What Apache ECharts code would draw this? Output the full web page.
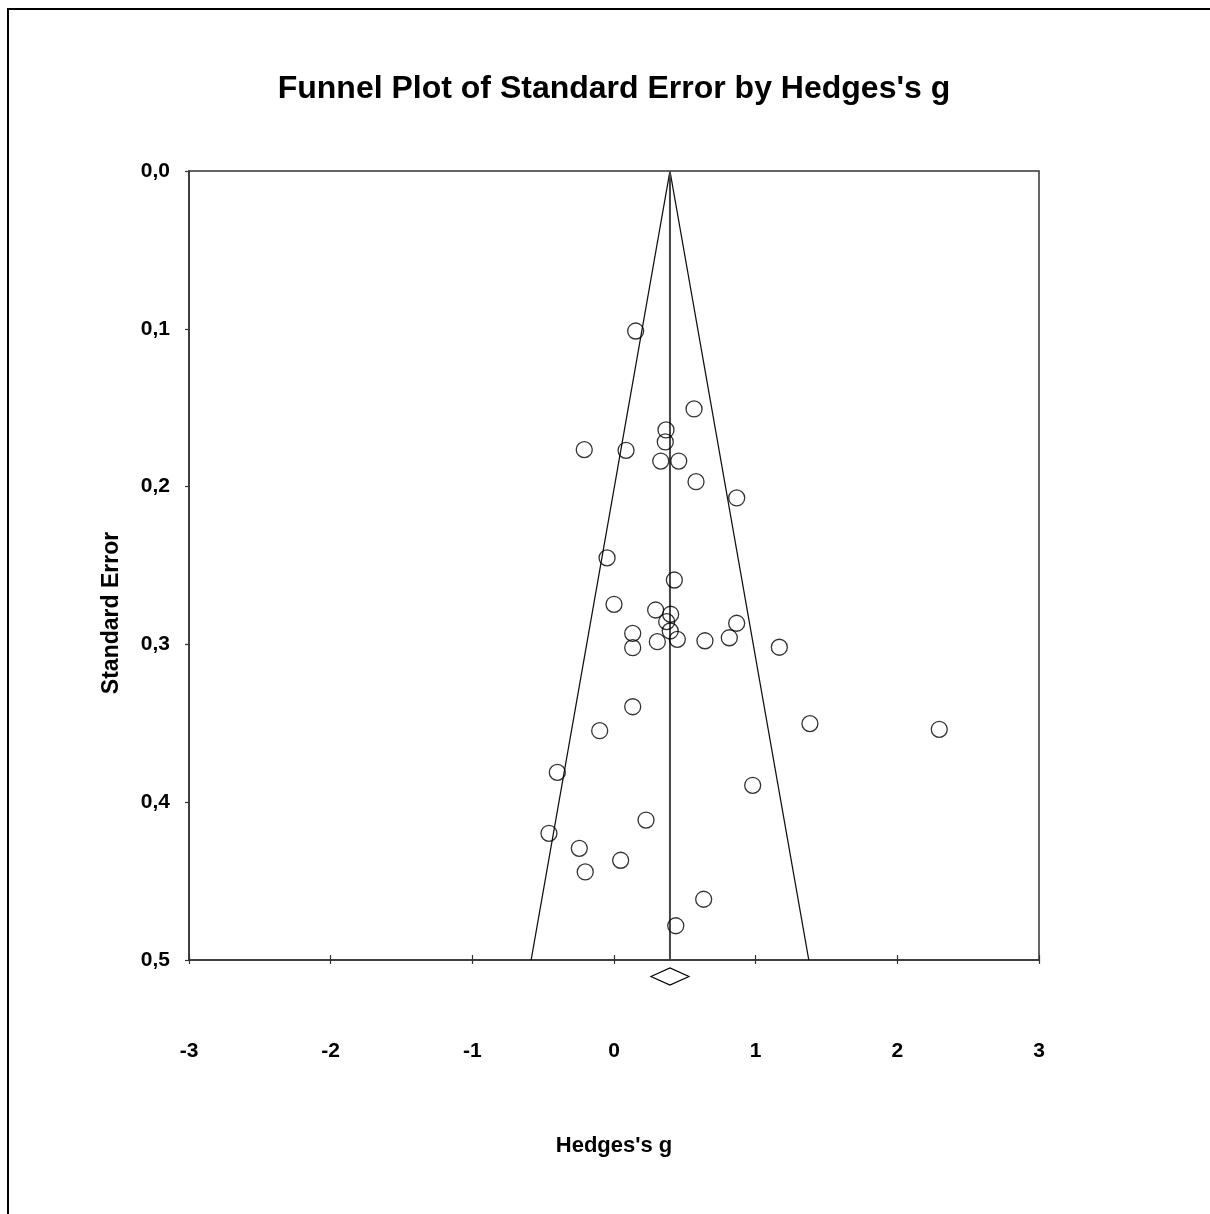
<!DOCTYPE html>
<html>
<head>
<meta charset="utf-8">
<title>Funnel Plot of Standard Error by Hedges's g</title>
<script src="https://cdn.jsdelivr.net/npm/echarts@6/dist/echarts.min.js"></script>
<style>
  html, body { margin: 0; padding: 0; background: #fff; }
  #chart { width: 1210px; height: 1214px; }
</style>
</head>
<body>
<div id="chart"></div>
<script>
// Study effect sizes (Hedges's g) and their standard errors
const hedgesG = [
  0.153, 0.565, 0.367, 0.362, -0.210, 0.085, 0.330, 0.457, 0.579, 0.866,
  -0.049, 0.426, 0.000, 0.294, 0.400, 0.372, 0.397, 0.866, 0.132, 0.447,
  0.306, 0.642, 0.814, 0.132, 1.167, 0.132, 1.383, -0.101, 2.296, -0.400,
  0.979, 0.226, -0.459, -0.245, 0.047, -0.203, 0.633, 0.436
];
const stdError = [
  0.1014, 0.1508, 0.1641, 0.1717, 0.1766, 0.1770, 0.1838, 0.1838, 0.1969, 0.2072,
  0.2452, 0.2592, 0.2746, 0.2782, 0.2809, 0.2856, 0.2915, 0.2866, 0.2930, 0.2968,
  0.2983, 0.2977, 0.2958, 0.3021, 0.3018, 0.3395, 0.3502, 0.3547, 0.3538, 0.3811,
  0.3893, 0.4113, 0.4197, 0.4292, 0.4368, 0.4442, 0.4615, 0.4783
];

// Pooled estimate and its confidence interval (drawn as the diamond)
const pooledG = 0.395;
const pooledLow = 0.261;
const pooledHigh = 0.529;

// Axis ticks
const xTicks = [-3, -2, -1, 0, 1, 2, 3];
const xTickLabels = ['-3', '-2', '-1', '0', '1', '2', '3'];
const yTicks = [0, 0.1, 0.2, 0.3, 0.4, 0.5];
const yTickLabels = ['0,0', '0,1', '0,2', '0,3', '0,4', '0,5'];

const FONT = "'Liberation Sans', Arial, Helvetica, sans-serif";
const seMax = yTicks[yTicks.length - 1];

const points = hedgesG.map((g, i) => [g, stdError[i]]);
// Pseudo 95% confidence limits around the pooled estimate
const funnel = [
  [pooledG - 1.96 * seMax, seMax],
  [pooledG, 0],
  [pooledG + 1.96 * seMax, seMax]
];

const labelStyle = { fontSize: 21, fontWeight: 'bold', color: '#000', fontFamily: FONT };
const axisColor = '#333';

const chart = echarts.init(document.getElementById('chart'), null, { renderer: 'canvas' });

chart.setOption({
  animation: false,
  backgroundColor: '#fff',
  grid: {
    left: 189, top: 171, right: 171, bottom: 254,
    show: true, borderColor: axisColor, borderWidth: 1.5, backgroundColor: 'transparent'
  },
  xAxis: [
    {
      type: 'value', min: xTicks[0], max: xTicks[xTicks.length - 1], interval: 1,
      position: 'bottom',
      axisLine: { show: true, onZero: false, lineStyle: { color: axisColor, width: 1.5 } },
      axisTick: { show: true, inside: false, length: 4, lineStyle: { color: axisColor, width: 1.2 } },
      splitLine: { show: false },
      axisLabel: Object.assign({ margin: 81, formatter: v => xTickLabels[xTicks.indexOf(Math.round(v))] }, labelStyle),
      name: "Hedges's g", nameLocation: 'middle', nameGap: 175,
      nameTextStyle: { fontSize: 22, fontWeight: 'bold', color: '#000', fontFamily: FONT }
    },
    {
      type: 'value', min: xTicks[0], max: xTicks[xTicks.length - 1], interval: 1,
      position: 'bottom',
      axisLine: { show: false, onZero: false },
      axisTick: { show: true, inside: true, length: 5, lineStyle: { color: axisColor, width: 1.2 } },
      axisLabel: { show: false },
      splitLine: { show: false }
    }
  ],
  yAxis: {
    type: 'value', inverse: true, min: 0, max: seMax, interval: 0.1,
    axisLine: { show: true, onZero: false, lineStyle: { color: axisColor, width: 1.5 } },
    axisTick: { show: true, inside: false, length: 4, lineStyle: { color: axisColor, width: 1.2 } },
    splitLine: { show: false },
    axisLabel: Object.assign({ margin: 19, formatter: v => yTickLabels[Math.round(v * 10)] }, labelStyle)
  },
  series: [
    {
      name: 'Funnel', type: 'line', data: funnel, symbol: 'none', silent: true, z: 2,
      lineStyle: { color: '#111', width: 1.3 }
    },
    {
      name: 'Pooled', type: 'line', data: [[pooledG, 0], [pooledG, seMax]], symbol: 'none', silent: true, z: 2,
      lineStyle: { color: '#444', width: 2 }
    },
    {
      name: 'Studies', type: 'scatter', data: points, symbol: 'circle', symbolSize: 16, z: 3,
      itemStyle: { color: 'rgba(0,0,0,0)', borderColor: '#000', borderWidth: 1.3 }
    },
    {
      name: 'Summary', type: 'custom', clip: false, z: 4,
      data: [[pooledLow, pooledG, pooledHigh]],
      encode: { x: [0, 1, 2] },
      renderItem: function (params, api) {
        const lo = api.coord([api.value(0), seMax]);
        const mid = api.coord([api.value(1), seMax]);
        const hi = api.coord([api.value(2), seMax]);
        const yc = mid[1] + 16.5;
        return {
          type: 'polygon',
          shape: { points: [[lo[0], yc], [mid[0], yc - 8.5], [hi[0], yc], [mid[0], yc + 8.5]] },
          style: { fill: '#fff', stroke: '#000', lineWidth: 1.2 }
        };
      }
    }
  ],
  graphic: [
    {
      type: 'rect', silent: true,
      shape: { x: 8, y: 9, width: 1400, height: 1400 },
      style: { fill: null, stroke: '#000', lineWidth: 2 }
    },
    {
      type: 'text', x: 614, y: 89, silent: true,
      style: {
        text: "Funnel Plot of Standard Error by Hedges's g",
        fontSize: 32, fontWeight: 'bold', fontFamily: FONT, fill: '#000',
        align: 'center', verticalAlign: 'middle'
      }
    },
    {
      type: 'text', x: 112, y: 613, rotation: Math.PI / 2, silent: true,
      style: {
        text: 'Standard Error',
        fontSize: 23, fontWeight: 'bold', fontFamily: FONT, fill: '#000',
        align: 'center', verticalAlign: 'middle'
      }
    }
  ]
});
</script>
</body>
</html>
